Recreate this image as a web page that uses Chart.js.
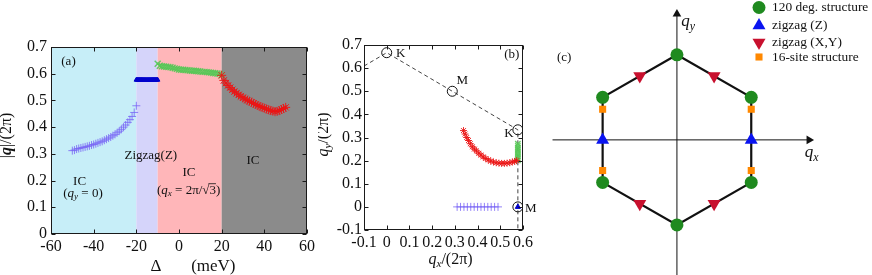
<!DOCTYPE html>
<html>
<head>
<meta charset="utf-8">
<script src="https://cdn.jsdelivr.net/npm/chart.js@4.4.1/dist/chart.umd.min.js"></script>
<style>
  html, body { margin:0; padding:0; background:#ffffff; }
  body { position:relative; width:872px; height:275px; overflow:hidden; }
  canvas { position:absolute; top:0; }
</style>
</head>
<body>
<canvas id="chartA" width="330" height="275" style="left:0px"></canvas>
<canvas id="chartB" width="225" height="275" style="left:318px"></canvas>
<canvas id="chartC" width="322" height="275" style="left:550px"></canvas>
<script>
// ================= DATA =================
// ---- Panel (a): |q|/(2pi) versus Delta (meV) ----
const aXTicks = [-60, -40, -20, 0, 20, 40, 60];
const aXTickLabels = ['-60', '-40', '-20', '0', '20', '40', '60'];
const aYTicks = [0, 0.1, 0.2, 0.3, 0.4, 0.5, 0.6, 0.7];
const aYTickLabels = ['0', '0.1', '0.2', '0.3', '0.4', '0.5', '0.6', '0.7'];
const phaseEdges = [-60, -20, -10, 20, 60];
const phaseNames = ['IC (qy=0)', 'Zigzag(Z)', 'IC (qx=2pi/sqrt3)', 'IC'];

const deltaIC1 = [-50,-49,-48,-47,-46,-45,-44,-43,-42,-41,-40,-39,-38,-37,-36,-35,-34,-33,-32,-31,-30,-29,-28,-27,-26,-25,-24,-23,-22,-21,-20];
const qIC1 = [0.312,0.314,0.318,0.320,0.322,0.324,0.326,0.328,0.330,0.333,0.335,0.338,0.341,0.344,0.347,0.351,0.355,0.359,0.363,0.368,0.373,0.379,0.385,0.392,0.400,0.408,0.418,0.428,0.440,0.455,0.480];

const deltaZ = [-20,-19.5,-19,-18.5,-18,-17.5,-17,-16.5,-16,-15.5,-15,-14.5,-14,-13.5,-13,-12.5,-12,-11.5,-11,-10.5,-10];
const qZ = [0.577,0.577,0.577,0.577,0.577,0.577,0.577,0.577,0.577,0.577,0.577,0.577,0.577,0.577,0.577,0.577,0.577,0.577,0.577,0.577,0.577];

const deltaIC2 = [-10,-9,-8,-7,-6,-5,-4,-3,-2,-1,0,1,2,3,4,5,6,7,8,9,10,11,12,13,14,15,16,17,18,19,20];
const qIC2 = [0.637,0.630,0.628,0.627,0.626,0.625,0.624,0.622,0.620,0.618,0.616,0.615,0.615,0.614,0.613,0.612,0.611,0.611,0.610,0.609,0.608,0.607,0.607,0.606,0.605,0.604,0.603,0.602,0.601,0.600,0.594];

const deltaIC3 = [20,21,22,23,24,25,26,27,28,29,30,31,32,33,34,35,36,37,38,39,40,41,42,43,44,45,46,47,48,49,50];
const qIC3 = [0.594,0.575,0.565,0.556,0.548,0.540,0.533,0.527,0.521,0.515,0.510,0.505,0.501,0.497,0.493,0.489,0.485,0.481,0.477,0.474,0.471,0.468,0.465,0.462,0.460,0.458,0.459,0.462,0.466,0.470,0.474];

// ---- Panel (b): q_y/(2pi) versus q_x/(2pi) ----
const bXTicks = [-0.1, 0, 0.1, 0.2, 0.3, 0.4, 0.5, 0.6];
const bXTickLabels = ['-0.1', '0', '0.1', '0.2', '0.3', '0.4', '0.5', '0.6'];
const bYTicks = [-0.1, 0, 0.1, 0.2, 0.3, 0.4, 0.5, 0.6, 0.7];
const bYTickLabels = ['-0.1', '0', '0.1', '0.2', '0.3', '0.4', '0.5', '0.6', '0.7'];

const bzX = [-0.1, 0, 0.2887, 0.5774, 0.5774];
const bzY = [0.609, 0.6667, 0.5, 0.3333, -0.1];
const symX = [0, 0.2887, 0.5774, 0.5774];
const symY = [0.6667, 0.5, 0.3333, 0];
const symNames = ['K', 'M', 'K', 'M'];

const bBlueX = [0.310,0.325,0.340,0.355,0.370,0.385,0.400,0.415,0.430,0.445,0.460,0.475,0.490];
const bBlueY = [0,0,0,0,0,0,0,0,0,0,0,0,0];
const bZX = [0.5774];
const bZY = [0];
const bGreenX = [0.5774,0.5774,0.5774,0.5774,0.5774,0.5774,0.5774,0.5774,0.5774,0.5774];
const bGreenY = [0.273,0.265,0.257,0.249,0.241,0.233,0.225,0.217,0.209,0.201];
const bRedX = [0.338,0.345,0.352,0.360,0.368,0.377,0.386,0.395,0.405,0.415,0.425,0.436,0.447,0.458,0.470,0.482,0.494,0.506,0.518,0.530,0.542,0.553,0.563,0.572];
const bRedY = [0.330,0.315,0.300,0.287,0.273,0.260,0.250,0.242,0.232,0.224,0.216,0.209,0.203,0.198,0.194,0.191,0.189,0.188,0.188,0.189,0.191,0.194,0.197,0.200];

// ---- Panel (c): reciprocal-space hexagon ----
const hexX = [0, 0.866, 0.866, 0, -0.866, -0.866, 0];
const hexY = [1, 0.5, -0.5, -1, -0.5, 0.5, 1];
const c120X = [0, 0.866, 0.866, 0, -0.866, -0.866];
const c120Y = [1, 0.5, -0.5, -1, -0.5, 0.5];
const cZX = [0.866, -0.866];
const cZY = [0, 0];
const cXYX = [0.433, 0.433, -0.433, -0.433];
const cXYY = [0.75, -0.75, 0.75, -0.75];
const c16X = [0.866, 0.866, -0.866, -0.866];
const c16Y = [0.36, -0.36, 0.36, -0.36];
const qxAxisX = [-1.45, 1.56];
const qxAxisY = [0, 0];
const qyAxisX = [0, 0];
const qyAxisY = [-1.6, 1.5];
const arrowX = [1.54, 0];
const arrowY = [0, 1.48];
const cLegendNames = ['120 deg. structure', 'zigzag (Z)', 'zigzag (X,Y)', '16-site structure'];

// ================= HELPERS =================
const SERIF = '"Liberation Serif", "Times New Roman", "DejaVu Serif", serif';
Chart.defaults.font.family = SERIF;
Chart.defaults.color = '#111';
const pts = (xs, ys) => xs.map((x, i) => ({ x: x, y: ys[i] }));

// parts: [text, style]; style letters: n normal, i italic, b bold, s subscript(italic), o overline
function richText(ctx, parts, x, y, size, align, rot) {
  align = align || 'center';
  ctx.save();
  ctx.translate(x, y);
  if (rot) ctx.rotate(rot);
  const fontFor = (p) => {
    const st = p[1];
    const sz = st.includes('s') ? size * 0.7 : size;
    return (st.includes('i') || st.includes('s') ? 'italic ' : '') + (st.includes('b') ? 'bold ' : '') + sz + 'px ' + SERIF;
  };
  let w = 0;
  for (const p of parts) { ctx.font = fontFor(p); w += ctx.measureText(p[0]).width; }
  let cx = align === 'center' ? -w / 2 : (align === 'right' ? -w : 0);
  ctx.textBaseline = 'middle';
  ctx.fillStyle = '#111';
  ctx.strokeStyle = '#111';
  for (const p of parts) {
    ctx.font = fontFor(p);
    const dy = p[1].includes('s') ? size * 0.28 : 0;
    const tw = ctx.measureText(p[0]).width;
    ctx.fillText(p[0], cx, dy);
    if (p[1].includes('o')) {
      ctx.lineWidth = 0.8;
      ctx.beginPath(); ctx.moveTo(cx - 1, -size * 0.5); ctx.lineTo(cx + tw, -size * 0.5); ctx.stroke();
    }
    cx += tw;
  }
  ctx.restore();
}

const framePlugin = {
  id: 'frameTicks',
  afterDatasetsDraw(chart) {
    const { ctx, chartArea: ca, scales } = chart;
    const L = Math.round(ca.left) + 0.5, R = Math.round(ca.right) - 0.5;
    const T = Math.round(ca.top) + 0.5, B = Math.round(ca.bottom) - 0.5;
    ctx.save();
    ctx.strokeStyle = '#1a1a1a';
    ctx.lineWidth = 1;
    ctx.strokeRect(L, T, R - L, B - T);
    const tl = 4;
    ctx.beginPath();
    scales.x.ticks.forEach(t => {
      const px = Math.round(scales.x.getPixelForValue(t.value)) + 0.5;
      ctx.moveTo(px, B); ctx.lineTo(px, B - tl);
      ctx.moveTo(px, T); ctx.lineTo(px, T + tl);
    });
    scales.y.ticks.forEach(t => {
      const py = Math.round(scales.y.getPixelForValue(t.value)) + 0.5;
      ctx.moveTo(L, py); ctx.lineTo(L + tl, py);
      ctx.moveTo(R, py); ctx.lineTo(R - tl, py);
    });
    ctx.stroke();
    ctx.restore();
  }
};

function annotPlugin(id, items, titles) {
  return {
    id: id,
    afterDraw(chart) {
      const { ctx, chartArea: ca, scales: { x, y } } = chart;
      items.forEach(it => {
        richText(ctx, it.parts, x.getPixelForValue(it.x) + (it.dx || 0), y.getPixelForValue(it.y) + (it.dy || 0), it.size, it.align || 'center', 0);
      });
      (titles || []).forEach(t => {
        const cx = t.axis === 'y' ? ca.left + t.off : (ca.left + ca.right) / 2 + (t.shift || 0);
        const cy = t.axis === 'y' ? (ca.top + ca.bottom) / 2 + (t.shift || 0) : ca.bottom + t.off;
        richText(ctx, t.parts, cx, cy, t.size, 'center', t.axis === 'y' ? -Math.PI / 2 : 0);
      });
    }
  };
}

function tickScale(min, max, ticks, labels, fitKey, fitVal, pad) {
  return {
    type: 'linear', min: min, max: max,
    grid: { display: false, drawTicks: false },
    border: { display: false },
    afterBuildTicks: s => { s.ticks = ticks.map(v => ({ value: v })); },
    afterFit: s => { s[fitKey] = fitVal; },
    ticks: { autoSkip: false, maxRotation: 0, minRotation: 0, padding: pad, color: '#111',
             font: { size: 16, family: SERIF }, callback: (v, i) => labels[i] }
  };
}

// ================= PANEL (a) =================
const phaseColors = ['#c7eef8', '#d5d4fa', '#ffb6b9', '#8b8b8b'];
const bandPlugin = {
  id: 'phaseBands',
  beforeDatasetsDraw(chart) {
    const { ctx, chartArea: ca, scales: { x } } = chart;
    ctx.save();
    for (let i = 0; i < phaseEdges.length - 1; i++) {
      const x0 = x.getPixelForValue(phaseEdges[i]), x1 = x.getPixelForValue(phaseEdges[i + 1]);
      ctx.fillStyle = phaseColors[i];
      ctx.fillRect(x0, ca.top, x1 - x0, ca.bottom - ca.top);
    }
    ctx.restore();
  }
};
const annotA = [
  { x: -51.8, y: 0.644, parts: [['(a)', 'n']], size: 13 },
  { x: -46.6, y: 0.195, parts: [['IC', 'n']], size: 13 },
  { x: -45, y: 0.152, parts: [['(', 'n'], ['q', 'i'], ['y', 's'], [' = 0)', 'n']], size: 13 },
  { x: -13.2, y: 0.293, parts: [['Zigzag(Z)', 'n']], size: 13 },
  { x: 4.7, y: 0.231, parts: [['IC', 'n']], size: 13 },
  { x: 4.5, y: 0.164, parts: [['(', 'n'], ['q', 'i'], ['x', 's'], [' = 2π/√', 'n'], ['3', 'no'], [')', 'n']], size: 13 },
  { x: 34.7, y: 0.274, parts: [['IC', 'n']], size: 13 }
];
const titlesA = [
  { axis: 'y', off: -44, shift: -5, size: 16, parts: [['|', 'n'], ['q', 'ib'], ['|/(2π)', 'n']] },
  { axis: 'x', off: 33, shift: 14, size: 17, parts: [['Δ       (meV)', 'n']] }
];

new Chart(document.getElementById('chartA'), {
  type: 'scatter',
  data: { datasets: [
    { label: phaseNames[3], data: pts(deltaIC3, qIC3), pointStyle: 'star', pointRadius: 4.5, borderColor: 'rgba(235,20,20,0.9)', backgroundColor: 'rgba(235,20,20,0.9)', borderWidth: 1 },
    { label: phaseNames[1], data: pts(deltaZ, qZ), pointStyle: 'triangle', pointRadius: 2.6, borderColor: '#0000cc', backgroundColor: '#0000cc', borderWidth: 1 },
    { label: phaseNames[2], data: pts(deltaIC2, qIC2), pointStyle: 'crossRot', pointRadius: 4.2, borderColor: 'rgba(85,200,85,0.9)', backgroundColor: 'rgba(85,200,85,0.9)', borderWidth: 1.4 },
    { label: phaseNames[0], data: pts(deltaIC1, qIC1), pointStyle: 'cross', pointRadius: 4, borderColor: 'rgba(120,100,245,0.8)', backgroundColor: 'rgba(120,100,245,0.8)', borderWidth: 1 }
  ]},
  options: {
    responsive: false, animation: false, events: [],
    layout: { padding: { left: 0, right: 23, top: 47, bottom: 0 } },
    plugins: { legend: { display: false }, tooltip: { enabled: false } },
    scales: {
      x: tickScale(-60, 60, aXTicks, aXTickLabels, 'height', 41, 3),
      y: tickScale(0, 0.7, aYTicks, aYTickLabels, 'width', 51, 4)
    }
  },
  plugins: [bandPlugin, framePlugin, annotPlugin('annotA', annotA, titlesA)]
});

// ================= PANEL (b) =================
const symOffsets = [[14, 1], [10, -11], [-9, 4], [13, 2]];
const annotB = symX.map((sx, i) => ({ x: sx, y: symY[i], dx: symOffsets[i][0], dy: symOffsets[i][1], parts: [[symNames[i], 'n']], size: 13 }))
  .concat([{ x: 0.551, y: 0.657, parts: [['(b)', 'n']], size: 13 }]);
const titlesB = [
  { axis: 'y', off: -40, shift: -3, size: 16, parts: [['q', 'i'], ['y', 's'], ['/(2π)', 'n']] },
  { axis: 'x', off: 30, shift: 7, size: 16, parts: [['q', 'i'], ['x', 's'], ['/(2π)', 'n']] }
];

new Chart(document.getElementById('chartB'), {
  type: 'scatter',
  data: { datasets: [
    { label: 'zigzag (Z)', data: pts(bZX, bZY), pointStyle: 'triangle', pointRadius: 3, borderColor: '#0000cc', backgroundColor: '#0000cc', borderWidth: 1, order: 1 },
    { label: 'high-symmetry points', data: pts(symX, symY), pointStyle: 'circle', pointRadius: 5, borderColor: '#111', backgroundColor: 'rgba(0,0,0,0)', borderWidth: 1, order: 2 },
    { label: 'IC right', data: pts(bRedX, bRedY), pointStyle: 'star', pointRadius: 3.5, borderColor: 'rgba(235,20,20,0.9)', backgroundColor: 'rgba(235,20,20,0.9)', borderWidth: 1, order: 3 },
    { label: 'IC mid', data: pts(bGreenX, bGreenY), pointStyle: 'crossRot', pointRadius: 3.8, borderColor: 'rgba(85,200,85,0.9)', backgroundColor: 'rgba(85,200,85,0.9)', borderWidth: 1.3, order: 4 },
    { label: 'IC left', data: pts(bBlueX, bBlueY), pointStyle: 'cross', pointRadius: 4, borderColor: 'rgba(120,100,245,0.8)', backgroundColor: 'rgba(120,100,245,0.8)', borderWidth: 1, order: 5 },
    { label: 'BZ boundary', data: pts(bzX, bzY), showLine: true, pointRadius: 0, borderColor: '#444', borderWidth: 1, borderDash: [4, 3], tension: 0, order: 10 }
  ]},
  options: {
    responsive: false, animation: false, events: [],
    layout: { padding: { left: 0, right: 20, top: 45, bottom: 0 } },
    plugins: { legend: { display: false }, tooltip: { enabled: false } },
    scales: {
      x: tickScale(-0.1, 0.6, bXTicks, bXTickLabels, 'height', 45, 3),
      y: tickScale(-0.1, 0.7, bYTicks, bYTickLabels, 'width', 46, 2)
    }
  },
  plugins: [framePlugin, annotPlugin('annotB', annotB, titlesB)]
});

// ================= PANEL (c) =================
const cStyles = [
  { style: 'circle', r: 6.5, rot: 0, color: '#1f8a1f' },
  { style: 'triangle', r: 7.5, rot: 0, color: '#0a14f0' },
  { style: 'triangle', r: 7.5, rot: 180, color: '#c8102e' },
  { style: 'rect', r: 5, rot: 0, color: '#ff8800' }
];
function drawMarker(ctx, s, x, y) {
  ctx.save(); ctx.translate(x, y); ctx.rotate(s.rot * Math.PI / 180);
  ctx.fillStyle = s.color; ctx.beginPath();
  if (s.style === 'circle') ctx.arc(0, 0, s.r, 0, 2 * Math.PI);
  else if (s.style === 'triangle') {
    for (let k = 0; k < 3; k++) { const a = -Math.PI / 2 + k * 2 * Math.PI / 3; ctx.lineTo(s.r * Math.cos(a), s.r * Math.sin(a)); }
    ctx.closePath();
  } else { const h = s.r * Math.SQRT1_2; ctx.rect(-h, -h, 2 * h, 2 * h); }
  ctx.fill(); ctx.restore();
}
const legendRowsY = [7.5, 25.5, 42.5, 57];
const legendC = {
  id: 'legendC',
  afterDraw(chart) {
    const ctx = chart.ctx;
    cLegendNames.forEach((name, i) => {
      drawMarker(ctx, cStyles[i], 209, legendRowsY[i]);
      richText(ctx, [[name, 'n']], 222, legendRowsY[i], 13.4, 'left', 0);
    });
  }
};
const annotC = [
  { x: -1.314, y: 0.967, parts: [['(c)', 'n']], size: 13 },
  { x: 0.13, y: 1.39, parts: [['q', 'i'], ['y', 's']], size: 17 },
  { x: 1.571, y: -0.15, parts: [['q', 'i'], ['x', 's']], size: 17 }
];
const markerDs = (xs, ys, s, label) => ({ label: label, data: pts(xs, ys), pointStyle: s.style, pointRadius: s.r, pointRotation: s.rot, backgroundColor: s.color, borderColor: s.color, borderWidth: 0, clip: false, order: 1 });

new Chart(document.getElementById('chartC'), {
  type: 'scatter',
  data: { datasets: [
    markerDs(c120X, c120Y, cStyles[0], cLegendNames[0]),
    markerDs(cZX, cZY, cStyles[1], cLegendNames[1]),
    markerDs(cXYX, cXYY, cStyles[2], cLegendNames[2]),
    markerDs(c16X, c16Y, cStyles[3], cLegendNames[3]),
    { label: 'Brillouin zone', data: pts(hexX, hexY), showLine: true, pointRadius: 0, borderColor: '#111', borderWidth: 2.2, tension: 0, order: 5, clip: false },
    { label: 'arrows', data: pts(arrowX, arrowY), pointStyle: 'triangle', pointRadius: 5, pointRotation: [90, 0], backgroundColor: '#111', borderColor: '#111', borderWidth: 0, order: 6, clip: false },
    { label: 'qx axis', data: pts(qxAxisX, qxAxisY), showLine: true, pointRadius: 0, borderColor: '#111', borderWidth: 1, order: 8, clip: false },
    { label: 'qy axis', data: pts(qyAxisX, qyAxisY), showLine: true, pointRadius: 0, borderColor: '#111', borderWidth: 1, order: 8, clip: false }
  ]},
  options: {
    responsive: false, animation: false, events: [],
    layout: { padding: 0 },
    plugins: { legend: { display: false }, tooltip: { enabled: false } },
    scales: {
      x: { type: 'linear', min: -1.392, max: 2.186, display: false },
      y: { type: 'linear', min: -1.5, max: 1.556, display: false }
    }
  },
  plugins: [annotPlugin('annotC', annotC, []), legendC]
});
</script>
</body>
</html>
